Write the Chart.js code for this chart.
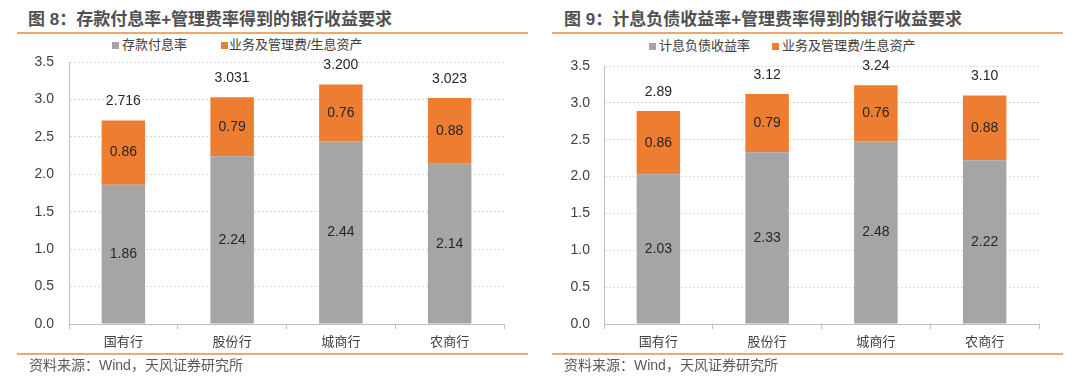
<!DOCTYPE html>
<html>
<head>
<meta charset="utf-8">
<script src="https://cdn.jsdelivr.net/npm/chart.js@4"></script>
<style>
    body { margin: 0; width: 1080px; height: 377px; background: #fff; position: relative; overflow: hidden;
           font-family: "Liberation Sans", "Noto Sans CJK SC", sans-serif; }
    canvas { position: absolute; top: 0; }
    .title { position: absolute; top: 10px; font-size: 17px; line-height: 20px; font-weight: bold; color: #505050; white-space: nowrap; }
    .rule { position: absolute; height: 2px; background: #f4a56c; width: 511px; }
    .legend { position: absolute; font-size: 13px; line-height: 16px; color: #404040; white-space: nowrap; }
    .legend i { position: absolute; top: 5px; width: 7px; height: 7px; }
    .source { position: absolute; top: 356px; font-size: 14px; line-height: 18px; color: #595959; white-space: nowrap; }
</style>
</head>
<body>
<div class="title" style="left:28px">图 8：存款付息率+管理费率得到的银行收益要求</div>
<div class="title" style="left:564px">图 9：计息负债收益率+管理费率得到的银行收益要求</div>
<div class="rule" style="left:17px;top:32px"></div>
<div class="rule" style="left:552px;top:32px"></div>

<div class="legend" style="left:112px;top:37px"><i style="left:0;background:#a5a5a5"></i><span style="margin-left:10px">存款付息率</span></div>
<div class="legend" style="left:221px;top:37px"><i style="left:0;background:#ed7d31"></i><span style="margin-left:8px">业务及管理费/生息资产</span></div>
<div class="legend" style="left:649px;top:38px"><i style="left:0;background:#a5a5a5"></i><span style="margin-left:10px">计息负债收益率</span></div>
<div class="legend" style="left:772px;top:38px"><i style="left:0;background:#ed7d31"></i><span style="margin-left:10px">业务及管理费/生息资产</span></div>

<canvas id="chart8" width="540" height="377" style="left:0"></canvas>
<canvas id="chart9" width="540" height="377" style="left:540px"></canvas>

<div class="rule" style="left:17px;top:353px"></div>
<div class="rule" style="left:552px;top:353px"></div>
<div class="source" style="left:29px">资料来源：Wind，天风证券研究所</div>
<div class="source" style="left:564px">资料来源：Wind，天风证券研究所</div>

<script>
const categories = ["国有行", "股份行", "城商行", "农商行"];

// 图8
const depositRate = [1.86, 2.24, 2.44, 2.14];
const feeRate8 = [0.86, 0.79, 0.76, 0.88];
const totals8 = [2.716, 3.031, 3.200, 3.023];

// 图9
const liabilityRate = [2.03, 2.33, 2.48, 2.22];
const feeRate9 = [0.86, 0.79, 0.76, 0.88];
const totals9 = [2.89, 3.12, 3.24, 3.10];

const yMin = 0, yMax = 3.5, yStep = 0.5;

Chart.defaults.font.family = '"Liberation Sans", "Noto Sans CJK SC", sans-serif';
Chart.defaults.color = "#404040";

const barLabels = {
    id: "barLabels",
    afterDatasetsDraw(chart, args, opts) {
        const ctx = chart.ctx;
        ctx.save();
        ctx.font = '14px "Liberation Sans", sans-serif';
        ctx.fillStyle = "#262626";
        ctx.textAlign = "center";
        ctx.textBaseline = "middle";
        chart.data.datasets.forEach((ds, i) => {
            chart.getDatasetMeta(i).data.forEach((bar, j) => {
                ctx.fillText(ds.data[j].toFixed(2), bar.x, (bar.y + bar.base) / 2);
            });
        });
        // totals above each bar
        const top = chart.getDatasetMeta(chart.data.datasets.length - 1).data;
        top.forEach((bar, j) => {
            ctx.fillText(opts.totals[j].toFixed(opts.digits), bar.x, bar.y - 19);
        });
        ctx.restore();
    }
};

function makeChart(id, lower, upper, totals, digits, box) {
    return new Chart(document.getElementById(id), {
        type: "bar",
        data: {
            labels: categories,
            datasets: [
                { data: lower, backgroundColor: "#a5a5a5" },
                { data: upper, backgroundColor: "#ed7d31" }
            ]
        },
        options: {
            responsive: false,
            animation: false,
            categoryPercentage: 1,
            barPercentage: 0.4,
            layout: { padding: { left: 0, right: box.right, top: box.top, bottom: 23 } },
            plugins: {
                legend: { display: false },
                tooltip: { enabled: false },
                barLabels: { totals: totals, digits: digits }
            },
            scales: {
                x: {
                    stacked: true,
                    grid: { drawOnChartArea: false, drawTicks: true, tickLength: 5, color: "#bfbfbf" },
                    border: { color: "#bfbfbf" },
                    ticks: { padding: 6, font: { size: 13 }, color: "#404040" },
                    afterFit: s => { s.height = 30; s.paddingLeft = 0; s.paddingRight = 0; }
                },
                y: {
                    stacked: true,
                    min: yMin,
                    max: yMax,
                    grid: { color: "#d9d9d9", drawTicks: false },
                    border: { color: "#bfbfbf", dash: [2, 2] },
                    ticks: {
                        stepSize: yStep,
                        padding: box.tickPad,
                        font: { size: 14 },
                        color: "#404040",
                        callback: v => v.toFixed(1)
                    },
                    afterFit: s => { s.width = box.left; s.paddingTop = 0; s.paddingBottom = 0; }
                }
            }
        },
        plugins: [barLabels]
    });
}

makeChart("chart8", depositRate, feeRate8, totals8, 3, { left: 69, right: 36, top: 62, tickPad: 15 });
makeChart("chart9", liabilityRate, feeRate9, totals9, 2, { left: 64, right: 41, top: 66, tickPad: 14 });
</script>
</body>
</html>
